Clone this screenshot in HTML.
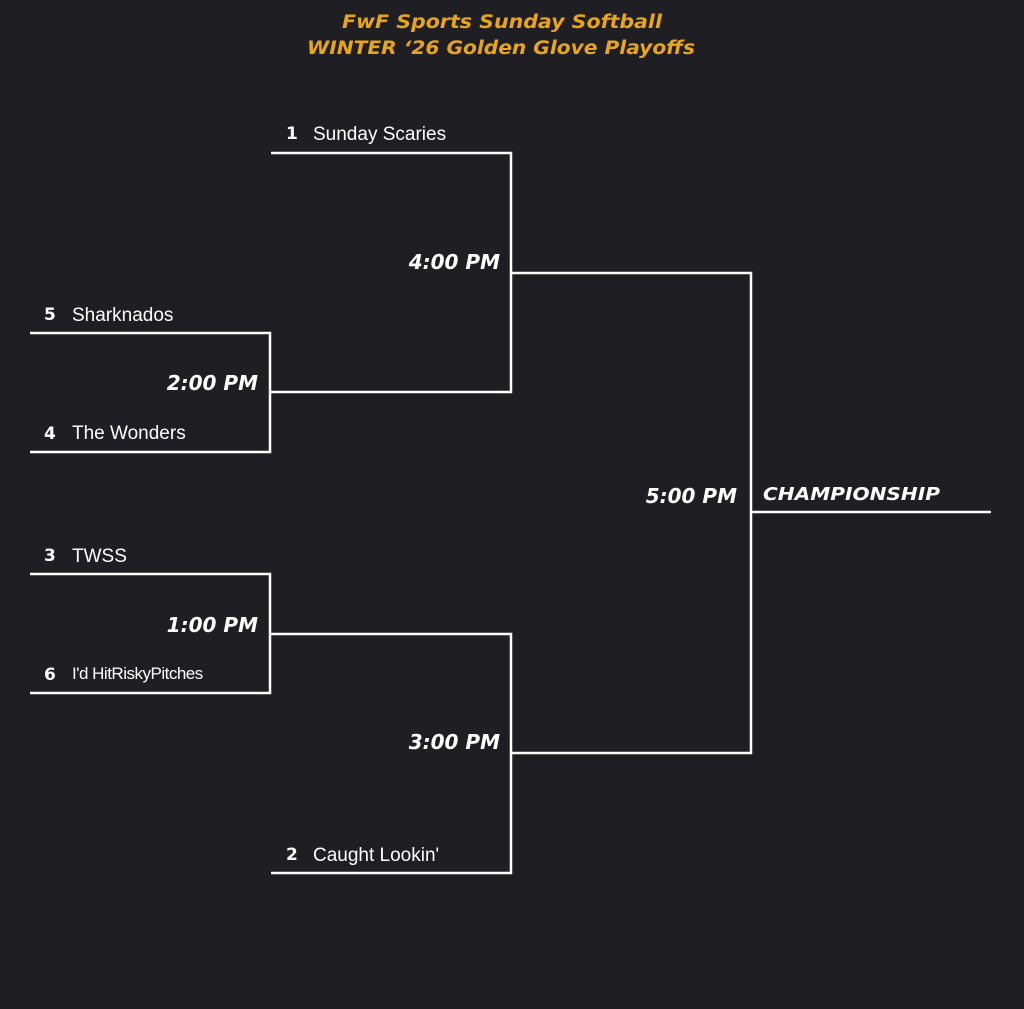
<!DOCTYPE html>
<html><head><meta charset="utf-8"><style>
html,body{margin:0;padding:0;background:#1f1f23;}
svg{display:block}
.t{font-family:"DejaVu Sans",sans-serif;font-weight:bold;font-style:italic;fill:#e8a519;font-size:18.5px;}
.n{font-family:"DejaVu Sans",sans-serif;font-weight:bold;fill:#fff;font-size:17px;}
.m{font-family:"Liberation Sans",sans-serif;fill:#fff;font-size:19px;}
.tm{font-family:"DejaVu Sans",sans-serif;font-weight:bold;font-style:italic;fill:#fff;font-size:20px;}
</style></head><body>
<svg width="1024" height="1009" viewBox="0 0 1024 1009">
<rect width="1024" height="1009" fill="#1f1f23"/>
<text class="t" x="502" y="28" text-anchor="middle" textLength="320" lengthAdjust="spacingAndGlyphs">FwF Sports Sunday Softball</text>
<text class="t" x="501" y="54" text-anchor="middle" textLength="388" lengthAdjust="spacingAndGlyphs">WINTER ‘26 Golden Glove Playoffs</text>
<g stroke="#fff" stroke-width="2.5" fill="none">
<polyline points="271,153 511,153 511,392 271,392"/>
<polyline points="30,333 270,333 270,452 30,452"/>
<polyline points="30,574 270,574 270,693 30,693"/>
<polyline points="271,634 511,634 511,873 271,873"/>
<polyline points="511,273 751,273 751,753 511,753"/>
<line x1="751" y1="512" x2="991" y2="512"/>
</g>
<text class="n" x="286" y="139">1</text><text class="m" x="313" y="140">Sunday Scaries</text>
<text class="n" x="44" y="320">5</text><text class="m" x="72" y="321">Sharknados</text>
<text class="n" x="44" y="439">4</text><text class="m" x="72" y="439">The Wonders</text>
<text class="n" x="44" y="561">3</text><text class="m" x="72" y="562">TWSS</text>
<text class="n" x="44" y="680">6</text><text class="m" x="72" y="679" style="font-size:17px;letter-spacing:-0.5px">I'd HitRiskyPitches</text>
<text class="n" x="286" y="860">2</text><text class="m" x="313" y="861">Caught Lookin'</text>
<text class="tm" x="500" y="269" text-anchor="end">4:00 PM</text>
<text class="tm" x="258" y="390" text-anchor="end">2:00 PM</text>
<text class="tm" x="258" y="632" text-anchor="end">1:00 PM</text>
<text class="tm" x="500" y="749" text-anchor="end">3:00 PM</text>
<text class="tm" x="737" y="503" text-anchor="end">5:00 PM</text>
<text class="tm" x="763" y="500" style="font-size:18px" textLength="177" lengthAdjust="spacingAndGlyphs">CHAMPIONSHIP</text>
</svg>
</body></html>
